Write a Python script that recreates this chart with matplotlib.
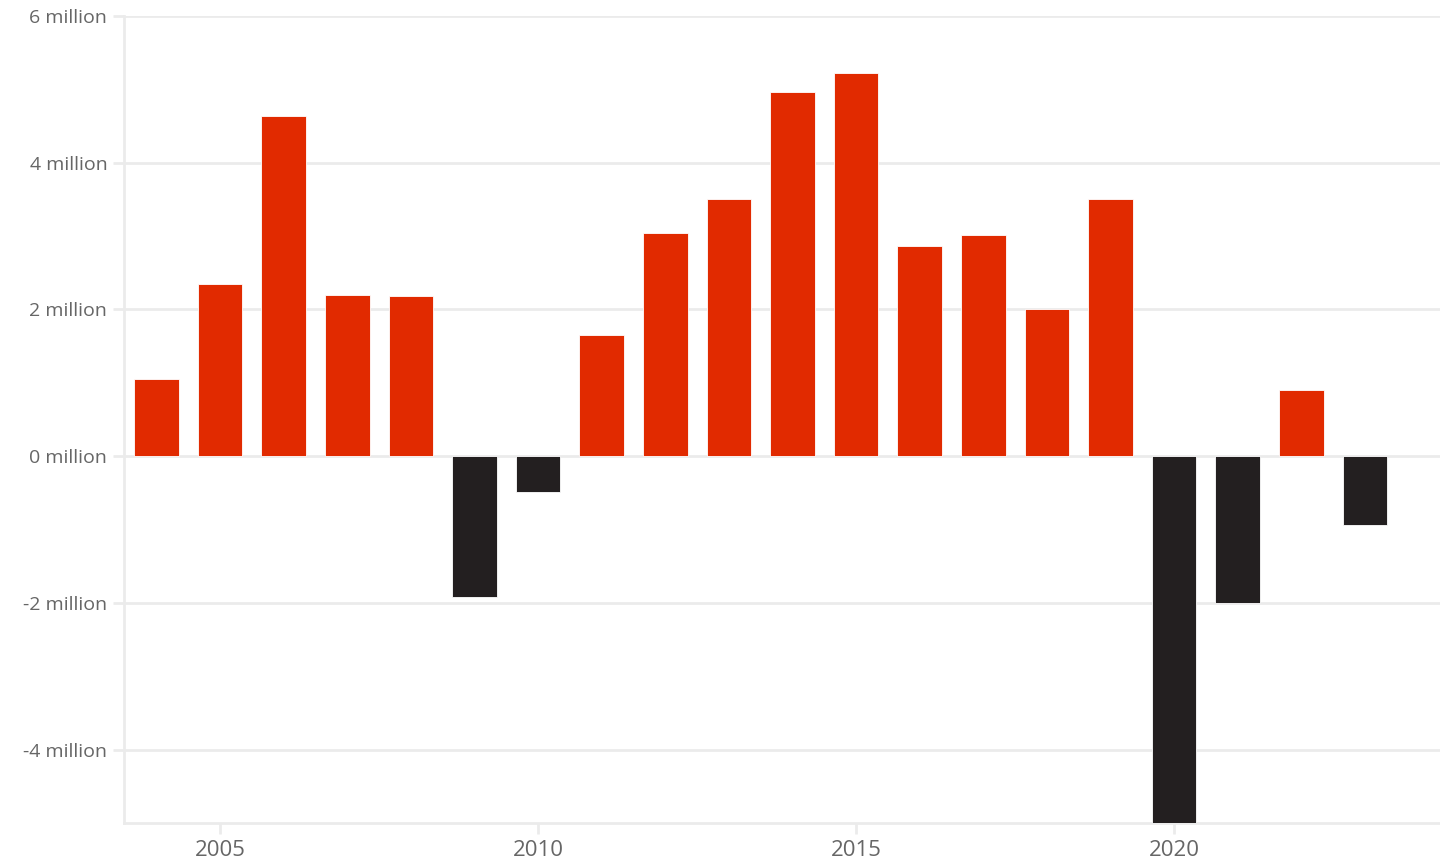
import numpy as np
import matplotlib.pyplot as plt

plt.rcParams['font.family'] = ['Open Sans', 'DejaVu Sans']

# ------ DATA
years = list(range(2004, 2024))
values = [1.05, 2.34, 4.63, 2.19, 2.18, -1.92, -0.49, 1.65, 3.04, 3.51,
          4.97, 5.22, 2.87, 3.01, 2.00, 3.50, -5.30, -2.00, 0.90, -0.94]
y_ticks = [-4, -2, 0, 2, 4, 6]
x_ticks = [2005, 2010, 2015, 2020]

red = '#e12a00'
dark = '#231f20'
grid_col = '#ebebeb'
label_col = '#666666'

fig = plt.figure(figsize=(14.4, 8.64), dpi=100)
ax = fig.add_axes([0.0861, 0.0475, 0.9139, 0.934])

colors = [red if v >= 0 else dark for v in values]
ax.bar(years, values, width=0.7, color=colors, edgecolor='#ffffff', linewidth=0.6, zorder=3)

ax.set_xlim(2003.49, 2024.18)
ax.set_ylim(-5, 6)
ax.set_yticks(y_ticks)
ax.set_yticklabels([f'{t} million' for t in y_ticks])
ax.set_xticks(x_ticks)

ax.grid(axis='y', color=grid_col, linewidth=2, zorder=0)
for side in ['top', 'right']:
    ax.spines[side].set_visible(False)
for side in ['left', 'bottom']:
    ax.spines[side].set_color(grid_col)
    ax.spines[side].set_linewidth(2)

ax.tick_params(axis='y', length=8, width=2, color=grid_col, labelsize=14, labelcolor=label_col, pad=4)
ax.tick_params(axis='x', length=8, width=2, color=grid_col, labelsize=16, labelcolor=label_col, pad=4)

fig.savefig('out.png', dpi=100)
